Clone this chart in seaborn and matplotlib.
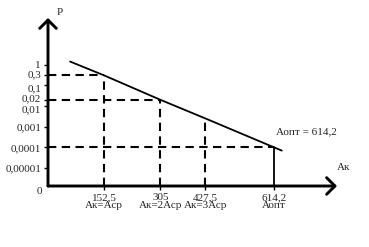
import matplotlib
matplotlib.use("Agg")
import matplotlib.pyplot as plt
import matplotlib.transforms as mtransforms
import seaborn as sns
import numpy as np
import pandas as pd

# ---- data ----
line_a = [60, 152.5, 305, 427.5, 614.2, 635]
line_p = [1.4, 0.3, 0.02, 0.0025, 0.0001, 0.00007]

mark_a = [152.5, 305, 427.5, 614.2]
mark_p = [0.3, 0.02, 0.0025, 0.0001]
hline_p = [0.3, 0.02, 0.0001]
hline_a = [152.5, 305, 614.2]

xtick_labels = ["152,5\nАк=Аср", "305\nАк=2Аср", "427,5\nАк=3Аср", "614,2\nАопт"]
ytick_vals = [1, 0.3, 0.1, 0.02, 0.01, 0.001, 0.0001, 0.00001]
ytick_labels = ["1", "0,3", "0,1", "0,02", "0,01", "0,001", "0,0001", "0,00001"]
ytick_shift = [0, 1.5, -1.5, 1.5, -2, 0, 0, 0]  # label nudges (points)

sns.set_theme(style="white")
plt.rcParams['font.family'] = ['Liberation Serif', 'DejaVu Serif']
FS = 8

W, H = 369, 247
fig = plt.figure(figsize=(W / 100, H / 100), dpi=100)
ax = fig.add_axes([48 / W, (H - 186) / H, (337 - 48) / W, (186 - 18) / H])
ax.set_yscale("log")
ax.set_xlim(0, 785)
ax.set_ylim(10 ** -5.865, 10 ** 2.25)

df = pd.DataFrame({"A": line_a, "P": line_p})
sns.lineplot(data=df, x="A", y="P", ax=ax, color="black", lw=1.3)

dash = (0, (4.0, 2.6))
ymin = ax.get_ylim()[0]
for a, p in zip(mark_a, mark_p):
    if a == mark_a[-1]:
        ax.plot([a, a], [ymin, p], color="black", lw=1.3)
    else:
        ax.plot([a, a], [ymin, p], color="black", lw=1.5, linestyle=dash)
for a, p in zip(hline_a, hline_p):
    ax.plot([0, a], [p, p], color="black", lw=1.5, linestyle=dash)

for s in ax.spines.values():
    s.set_visible(False)

ax.set_xticks(mark_a)
ax.set_xticklabels(xtick_labels, fontsize=FS, linespacing=0.9)
ax.set_yticks(ytick_vals)
ax.set_yticklabels(ytick_labels, fontsize=FS)
ax.minorticks_off()
ax.tick_params(axis="both", length=3, width=1, color="black", pad=2,
               direction="out", left=True, bottom=True)
for lab, dy in zip(ax.get_yticklabels(), ytick_shift):
    lab.set_transform(lab.get_transform() +
                      mtransforms.ScaledTranslation(0, dy / 72, fig.dpi_scale_trans))
ax.set_xlabel("")
ax.set_ylabel("")

arrow = dict(arrowstyle="->,head_length=0.6,head_width=0.6", lw=2.1,
             color="black", shrinkA=0, shrinkB=0, mutation_scale=10)
ax.annotate("", xy=(1, 0), xytext=(0, 0), xycoords="axes fraction",
            textcoords="axes fraction", arrowprops=arrow, annotation_clip=False)
ax.annotate("", xy=(0, 1), xytext=(0, 0), xycoords="axes fraction",
            textcoords="axes fraction", arrowprops=arrow, annotation_clip=False)

ax.annotate("P", xy=(0, 1), xycoords="axes fraction", xytext=(6, 1),
            textcoords="offset points", fontsize=FS, ha="left", va="bottom",
            annotation_clip=False)
ax.annotate("Ак", xy=(1, 0), xycoords="axes fraction", xytext=(0, 10),
            textcoords="offset points", fontsize=FS, ha="left", va="bottom",
            annotation_clip=False)
ax.annotate("0", xy=(0, 0), xycoords="axes fraction", xytext=(-4, -1),
            textcoords="offset points", fontsize=FS, ha="right", va="top",
            annotation_clip=False)
ax.annotate("Аопт = 614,2", xy=(mark_a[-1], mark_p[-1]), xytext=(1, 8),
            textcoords="offset points", fontsize=FS, ha="left", va="bottom")

fig.savefig("out.png", dpi=100)
